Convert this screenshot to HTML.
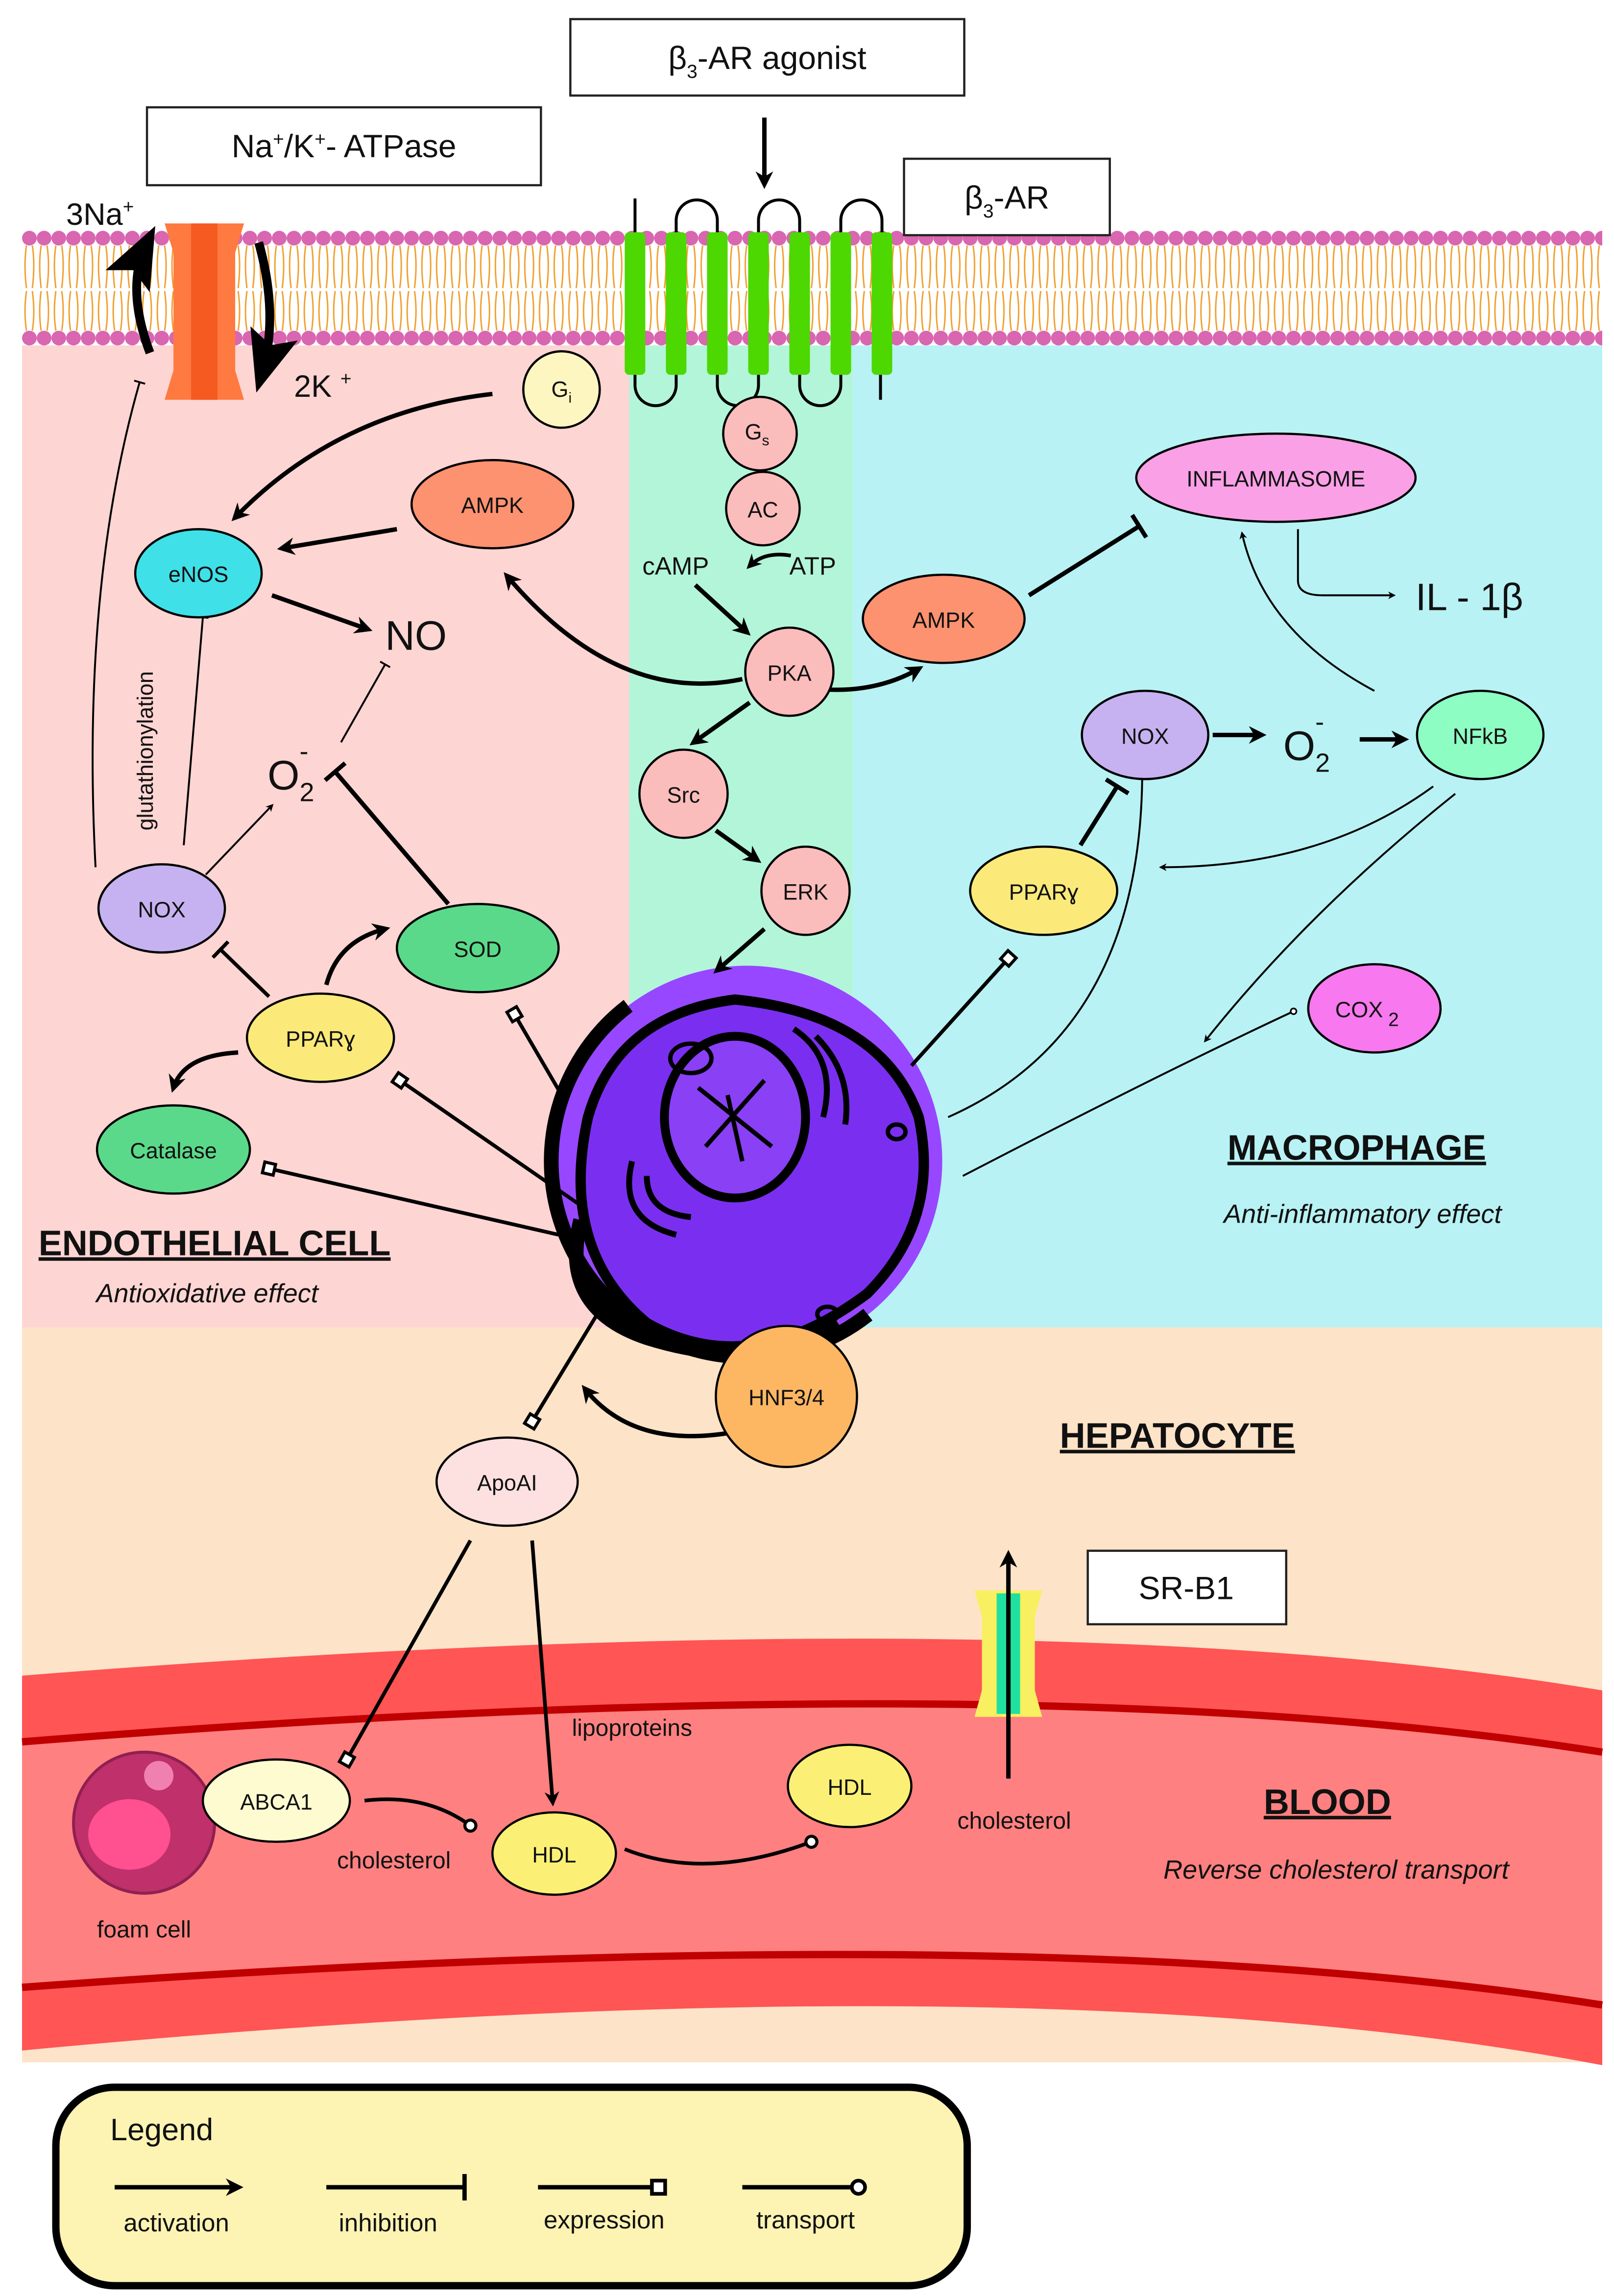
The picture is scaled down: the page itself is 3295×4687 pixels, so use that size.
<!DOCTYPE html>
<html><head><meta charset="utf-8"><style>html,body{margin:0;padding:0;background:#fff}svg{display:block}text{font-family:"Liberation Sans",sans-serif;fill:#111}</style></head>
<body>
<svg width="3295" height="4687" viewBox="0 0 1098 1562" preserveAspectRatio="none" xmlns="http://www.w3.org/2000/svg">
<defs>
<marker id="a" viewBox="0 0 10 10" refX="7" refY="5" markerWidth="4" markerHeight="4" orient="auto-start-reverse" markerUnits="strokeWidth"><path d="M0,0 L10,5 L0,10 L3,5 z" fill="#000"/></marker>
<marker id="at" viewBox="0 0 10 10" refX="7" refY="5" markerWidth="7" markerHeight="7" orient="auto" markerUnits="strokeWidth"><path d="M0,1 L10,5 L0,9 L2,5 z" fill="#000"/></marker>
<marker id="b" viewBox="0 0 2 12" refX="1" refY="6" markerWidth="1" markerHeight="6" orient="auto" markerUnits="strokeWidth"><rect x="0" y="0" width="2" height="12" fill="#000"/></marker>
<marker id="s" viewBox="0 0 12 12" refX="6" refY="6" markerWidth="4" markerHeight="4" orient="auto" markerUnits="strokeWidth"><rect x="1.5" y="1.5" width="9" height="9" fill="#fff" stroke="#000" stroke-width="2.5"/></marker>
<marker id="c" viewBox="0 0 12 12" refX="6" refY="6" markerWidth="4" markerHeight="4" orient="auto" markerUnits="strokeWidth"><circle cx="6" cy="6" r="4.5" fill="#fff" stroke="#000" stroke-width="2.5"/></marker>
<pattern id="beads" x="15" y="0" width="10" height="1562" patternUnits="userSpaceOnUse">
<circle cx="5" cy="162" r="5" fill="#d966b0"/><circle cx="5" cy="230" r="5" fill="#d966b0"/>
<path d="M3,167 Q1,180 3,196 M7,167 Q9,180 7,196 M3,225 Q1,212 3,198 M7,225 Q9,212 7,198" stroke="#f0a030" stroke-width="1" fill="none"/>
</pattern>
</defs>
<!-- regions -->
<rect x="15" y="190" width="413" height="715" fill="#fdd5d3"/>
<rect x="428" y="190" width="152" height="515" fill="#b3f5d9"/>
<rect x="580" y="190" width="510" height="715" fill="#b8f2f4"/>
<rect x="15" y="903" width="1075" height="500" fill="#fde3c8"/>
<!-- blood vessel -->
<path d="M15,1140 Q700,1085 1090,1150 L1090,1405 Q700,1330 15,1395 Z" fill="#ff5555"/>
<path d="M15,1185 Q700,1130 1090,1192 L1090,1362 Q700,1300 15,1350 Z" fill="#ff8080"/>
<path d="M15,1185 Q700,1130 1090,1192" fill="none" stroke="#c00000" stroke-width="5"/>
<path d="M15,1352 Q700,1302 1090,1364" fill="none" stroke="#c00000" stroke-width="5"/>
<!-- membrane -->
<rect x="15" y="157" width="1075" height="78" fill="#fff"/>
<rect x="15" y="155" width="1075" height="82" fill="url(#beads)"/>
<!-- Na/K pump -->
<path d="M112,152 h54 l-6,20 v80 l6,20 h-54 l6,-20 v-80 z" fill="#ff7a40"/>
<rect x="130" y="152" width="18" height="120" fill="#f55a20"/>
<path d="M102,240 Q85,195 100,165" fill="none" stroke="#000" stroke-width="6" marker-end="url(#at)"/>
<path d="M176,165 Q190,215 178,255" fill="none" stroke="#000" stroke-width="6" marker-end="url(#at)"/>
<text x="45" y="153" font-size="21">3Na<tspan font-size="13" dy="-8">+</tspan></text>
<text x="200" y="270" font-size="21">2K <tspan font-size="13" dy="-8">+</tspan></text>
<!-- receptor -->
<g fill="none" stroke="#000" stroke-width="2">
<path d="M432,160 V135 M599,255 V272"/>
<path d="M460,160 V150 A14,14 0 0 1 488,150 V160"/>
<path d="M516,160 V150 A14,14 0 0 1 544,150 V160"/>
<path d="M572,160 V150 A14,14 0 0 1 600,150 V160"/>
<path d="M432,255 V262 A14,14 0 0 0 460,262 V255"/>
<path d="M488,255 V262 A14,14 0 0 0 516,262 V255"/>
<path d="M544,255 V262 A14,14 0 0 0 572,262 V255"/>
</g>
<g fill="#4cd800">
<rect x="425" y="158" width="14" height="97" rx="3"/><rect x="453" y="158" width="14" height="97" rx="3"/><rect x="481" y="158" width="14" height="97" rx="3"/><rect x="509" y="158" width="14" height="97" rx="3"/><rect x="537" y="158" width="14" height="97" rx="3"/><rect x="565" y="158" width="14" height="97" rx="3"/><rect x="593" y="158" width="14" height="97" rx="3"/>
</g>
<!-- boxes -->
<g fill="#fff" stroke="#222" stroke-width="1.5">
<rect x="388" y="13" width="268" height="52"/>
<rect x="100" y="73" width="268" height="53"/>
<rect x="615" y="108" width="140" height="52"/>
<rect x="740" y="1055" width="135" height="50"/>
</g>
<text x="522" y="47" font-size="22" text-anchor="middle">β<tspan font-size="13" dy="6">3</tspan><tspan dy="-6">-AR agonist</tspan></text>
<text x="234" y="107" font-size="22" text-anchor="middle">Na<tspan font-size="13" dy="-8">+</tspan><tspan dy="8">/K</tspan><tspan font-size="13" dy="-8">+</tspan><tspan dy="8">- ATPase</tspan></text>
<text x="685" y="142" font-size="22" text-anchor="middle">β<tspan font-size="13" dy="6">3</tspan><tspan dy="-6">-AR</tspan></text>
<text x="807" y="1088" font-size="22" text-anchor="middle">SR-B1</text>
<line x1="520" y1="80" x2="520" y2="125" stroke="#000" stroke-width="3" marker-end="url(#a)"/>
<!-- SR-B1 channel -->
<path d="M663,1082 h46 l-5,18 v50 l5,18 h-46 l5,-18 v-50 z" fill="#f8f060"/>
<rect x="678" y="1084" width="16" height="82" fill="#20e0a0"/>
<line x1="686" y1="1210" x2="686" y2="1058" stroke="#000" stroke-width="3" marker-end="url(#a)"/>
<!-- nucleus cell -->
<circle cx="508" cy="790" r="133" fill="#9747ff"/>
<path d="M400,760 Q420,690 500,680 Q600,690 625,760 Q640,830 590,880 Q510,940 440,900 Q380,850 400,760 Z" fill="#7a2ff0" stroke="#000" stroke-width="7"/>
<path d="M395,830 Q380,890 440,910 Q520,935 570,900" fill="none" stroke="#000" stroke-width="10"/>
<circle cx="508" cy="790" r="133" fill="none" stroke="#000" stroke-width="10" stroke-dasharray="420 420" stroke-dashoffset="-120"/>
<ellipse cx="500" cy="760" rx="48" ry="55" fill="#8a40f5" stroke="#000" stroke-width="6"/>
<path d="M475,740 L525,780 M480,780 L520,735 M495,745 L505,790" stroke="#000" stroke-width="3"/>
<path d="M430,790 Q420,830 460,840 M440,800 Q440,825 470,828" fill="none" stroke="#000" stroke-width="4"/>
<path d="M540,700 Q570,720 560,760 M555,705 Q580,730 575,765" fill="none" stroke="#000" stroke-width="4"/>
<ellipse cx="470" cy="720" rx="14" ry="10" fill="none" stroke="#000" stroke-width="3"/>
<ellipse cx="563" cy="894" rx="7" ry="5" fill="none" stroke="#000" stroke-width="3"/>
<ellipse cx="610" cy="770" rx="6" ry="5" fill="none" stroke="#000" stroke-width="3"/>
<!-- connectors -->
<g fill="none" stroke="#000" stroke-width="3">
<path d="M335,268 Q230,280 160,352" marker-end="url(#a)"/>
<line x1="270" y1="360" x2="192" y2="373" marker-end="url(#a)"/>
<line x1="185" y1="405" x2="250" y2="428" marker-end="url(#a)"/>
<path d="M505,462 Q420,480 345,392" marker-end="url(#a)"/>
<path d="M543,467 Q590,475 625,455" marker-end="url(#a)"/>
<path d="M538,378 Q520,375 510,385" marker-end="url(#a)" stroke-width="2.5"/>
<line x1="473" y1="398" x2="508" y2="430" marker-end="url(#a)"/>
<line x1="510" y1="478" x2="472" y2="505" marker-end="url(#a)"/>
<line x1="487" y1="565" x2="515" y2="585" marker-end="url(#a)"/>
<line x1="520" y1="632" x2="488" y2="660" marker-end="url(#a)"/>
<line x1="700" y1="405" x2="775" y2="358" marker-end="url(#b)"/>
<line x1="825" y1="500" x2="858" y2="500" marker-end="url(#a)"/>
<line x1="925" y1="503" x2="955" y2="503" marker-end="url(#a)"/>
<line x1="735" y1="575" x2="760" y2="535" marker-end="url(#b)"/>
<line x1="183" y1="678" x2="150" y2="646" marker-end="url(#b)" stroke-width="2.5"/>
<path d="M222,670 Q230,640 262,632" marker-end="url(#a)"/>
<path d="M162,716 Q125,718 118,740" marker-end="url(#a)"/>
<line x1="305" y1="615" x2="228" y2="525" marker-end="url(#b)"/>
<line x1="385" y1="750" x2="350" y2="690" marker-end="url(#s)" stroke-width="2.5"/>
<line x1="395" y1="820" x2="272" y2="735" marker-end="url(#s)" stroke-width="2.5"/>
<line x1="380" y1="840" x2="183" y2="795" marker-end="url(#s)" stroke-width="2.5"/>
<line x1="620" y1="725" x2="686" y2="652" marker-end="url(#s)" stroke-width="2.5"/>
<line x1="410" y1="888" x2="362" y2="967" marker-end="url(#s)" stroke-width="2.5"/>
<path d="M495,975 Q430,985 398,945" marker-end="url(#a)"/>
<line x1="320" y1="1048" x2="236" y2="1197" marker-end="url(#s)" stroke-width="2.5"/>
<line x1="362" y1="1048" x2="376" y2="1226" marker-end="url(#a)" stroke-width="2.5"/>
<path d="M248,1225 Q290,1220 320,1242" marker-end="url(#c)" stroke-width="2.5"/>
<path d="M425,1258 Q480,1280 552,1253" marker-end="url(#c)" stroke-width="2.5"/>
</g>
<g fill="none" stroke="#000" stroke-width="1.3">
<path d="M65,590 Q55,400 95,260" marker-end="url(#b)"/>
<line x1="125" y1="575" x2="138" y2="420" marker-end="url(#b)"/>
<line x1="140" y1="595" x2="185" y2="548" marker-end="url(#a)"/>
<line x1="232" y1="505" x2="262" y2="452" marker-end="url(#b)"/>
<path d="M645,760 Q780,700 777,516" marker-end="url(#s)"/>
<path d="M655,800 Q790,730 880,688" marker-end="url(#c)"/>
<path d="M975,535 Q900,590 790,590" marker-end="url(#a)"/>
<path d="M990,540 Q890,620 820,708" marker-end="url(#a)"/>
<path d="M935,470 Q860,430 845,363" marker-end="url(#a)"/>
<path d="M883,360 V395 Q883,405 900,405 H948" marker-end="url(#a)"/>
</g>
<!-- nodes -->
<g stroke="#000" stroke-width="1.5">
<circle cx="382" cy="265" r="26" fill="#fef6c0"/>
<ellipse cx="335" cy="343" rx="55" ry="30" fill="#fd9270"/>
<ellipse cx="135" cy="390" rx="43" ry="30" fill="#3fe0e8"/>
<ellipse cx="110" cy="618" rx="43" ry="30" fill="#c6b2f0"/>
<ellipse cx="325" cy="645" rx="55" ry="30" fill="#5bd98a"/>
<ellipse cx="218" cy="706" rx="50" ry="30" fill="#fbea7a"/>
<ellipse cx="118" cy="782" rx="52" ry="30" fill="#5bd98a"/>
<circle cx="517" cy="295" r="25" fill="#fbbcbc"/>
<circle cx="519" cy="346" r="25" fill="#fbbcbc"/>
<circle cx="537" cy="457" r="30" fill="#fbbcbc"/>
<circle cx="465" cy="540" r="30" fill="#fbbcbc"/>
<circle cx="548" cy="606" r="30" fill="#fbbcbc"/>
<ellipse cx="642" cy="421" rx="55" ry="30" fill="#fd9270"/>
<ellipse cx="868" cy="325" rx="95" ry="30" fill="#f9a0e6"/>
<ellipse cx="779" cy="500" rx="43" ry="30" fill="#c6b2f0"/>
<ellipse cx="1007" cy="500" rx="43" ry="30" fill="#8efdc4"/>
<ellipse cx="710" cy="606" rx="50" ry="30" fill="#fbea7a"/>
<ellipse cx="935" cy="686" rx="45" ry="30" fill="#f778ef"/>
<circle cx="535" cy="950" r="48" fill="#fdb763"/>
<ellipse cx="345" cy="1008" rx="48" ry="30" fill="#fde0e0"/>
<ellipse cx="377" cy="1261" rx="42" ry="28" fill="#fbf075"/>
<ellipse cx="578" cy="1215" rx="42" ry="28" fill="#fbf075"/>
</g>
<!-- foam cell -->
<circle cx="98" cy="1240" r="48" fill="#c0306a" stroke="#902050" stroke-width="2"/>
<ellipse cx="88" cy="1248" rx="28" ry="24" fill="#ff5090"/>
<circle cx="108" cy="1208" r="10" fill="#f080b0"/>
<ellipse cx="188" cy="1225" rx="50" ry="28" fill="#fefbd0" stroke="#000" stroke-width="1.5"/>
<g font-size="15" text-anchor="middle">
<text x="382" y="270">G<tspan font-size="10" dy="4">i</tspan></text>
<text x="335" y="349">AMPK</text>
<text x="135" y="396">eNOS</text>
<text x="110" y="624">NOX</text>
<text x="325" y="651">SOD</text>
<text x="218" y="712">PPARɣ</text>
<text x="118" y="788">Catalase</text>
<text x="515" y="299">G<tspan font-size="10" dy="4">s</tspan></text>
<text x="519" y="352">AC</text>
<text x="537" y="463">PKA</text>
<text x="465" y="546">Src</text>
<text x="548" y="612">ERK</text>
<text x="642" y="427">AMPK</text>
<text x="868" y="331">INFLAMMASOME</text>
<text x="779" y="506">NOX</text>
<text x="1007" y="506">NFkB</text>
<text x="710" y="612">PPARɣ</text>
<text x="930" y="692">COX<tspan font-size="13" dy="6"> 2</tspan></text>
<text x="535" y="956">HNF3/4</text>
<text x="345" y="1014">ApoAI</text>
<text x="188" y="1231">ABCA1</text>
<text x="377" y="1267">HDL</text>
<text x="578" y="1221">HDL</text>
</g>
<g font-size="17">
<text x="437" y="391">cAMP</text>
<text x="537" y="391">ATP</text>
<text x="262" y="442" font-size="28">NO</text>
<text x="182" y="537" font-size="28">O<tspan font-size="18" dy="8">2</tspan><tspan font-size="18" dx="-10" dy="-28">-</tspan></text>
<text x="873" y="517" font-size="28">O<tspan font-size="18" dy="8">2</tspan><tspan font-size="18" dx="-10" dy="-28">-</tspan></text>
<text x="963" y="415" font-size="26">IL - 1β</text>
<text x="104" y="565" font-size="15" transform="rotate(-90 104 565)">glutathionylation</text>
<text x="146" y="854" font-size="24" font-weight="bold" text-anchor="middle" text-decoration="underline">ENDOTHELIAL CELL</text>
<text x="141" y="886" font-style="italic" text-anchor="middle" font-size="18">Antioxidative effect</text>
<text x="923" y="789" font-size="24" font-weight="bold" text-anchor="middle" text-decoration="underline">MACROPHAGE</text>
<text x="927" y="832" font-style="italic" text-anchor="middle" font-size="18">Anti-inflammatory effect</text>
<text x="801" y="985" font-size="24" font-weight="bold" text-anchor="middle" text-decoration="underline">HEPATOCYTE</text>
<text x="903" y="1234" font-size="24" font-weight="bold" text-anchor="middle" text-decoration="underline">BLOOD</text>
<text x="909" y="1278" font-style="italic" text-anchor="middle" font-size="18">Reverse cholesterol transport</text>
<text x="430" y="1181" text-anchor="middle" font-size="16">lipoproteins</text>
<text x="268" y="1271" text-anchor="middle" font-size="16">cholesterol</text>
<text x="690" y="1244" text-anchor="middle" font-size="16">cholesterol</text>
<text x="98" y="1318" text-anchor="middle" font-size="16">foam cell</text>
</g>
<!-- legend -->
<rect x="38" y="1420" width="620" height="135" rx="40" fill="#fdf3b3" stroke="#000" stroke-width="5"/>
<text x="75" y="1456" font-size="21">Legend</text>
<g stroke="#000" stroke-width="3" fill="none">
<line x1="78" y1="1488" x2="162" y2="1488" marker-end="url(#a)"/>
<line x1="222" y1="1488" x2="316" y2="1488" marker-end="url(#b)"/>
<line x1="366" y1="1488" x2="448" y2="1488" marker-end="url(#s)"/>
<line x1="505" y1="1488" x2="584" y2="1488" marker-end="url(#c)"/>
</g>
<g font-size="17" text-anchor="middle">
<text x="120" y="1518">activation</text>
<text x="264" y="1518">inhibition</text>
<text x="411" y="1516">expression</text>
<text x="548" y="1516">transport</text>
</g>
</svg>
</body></html>
